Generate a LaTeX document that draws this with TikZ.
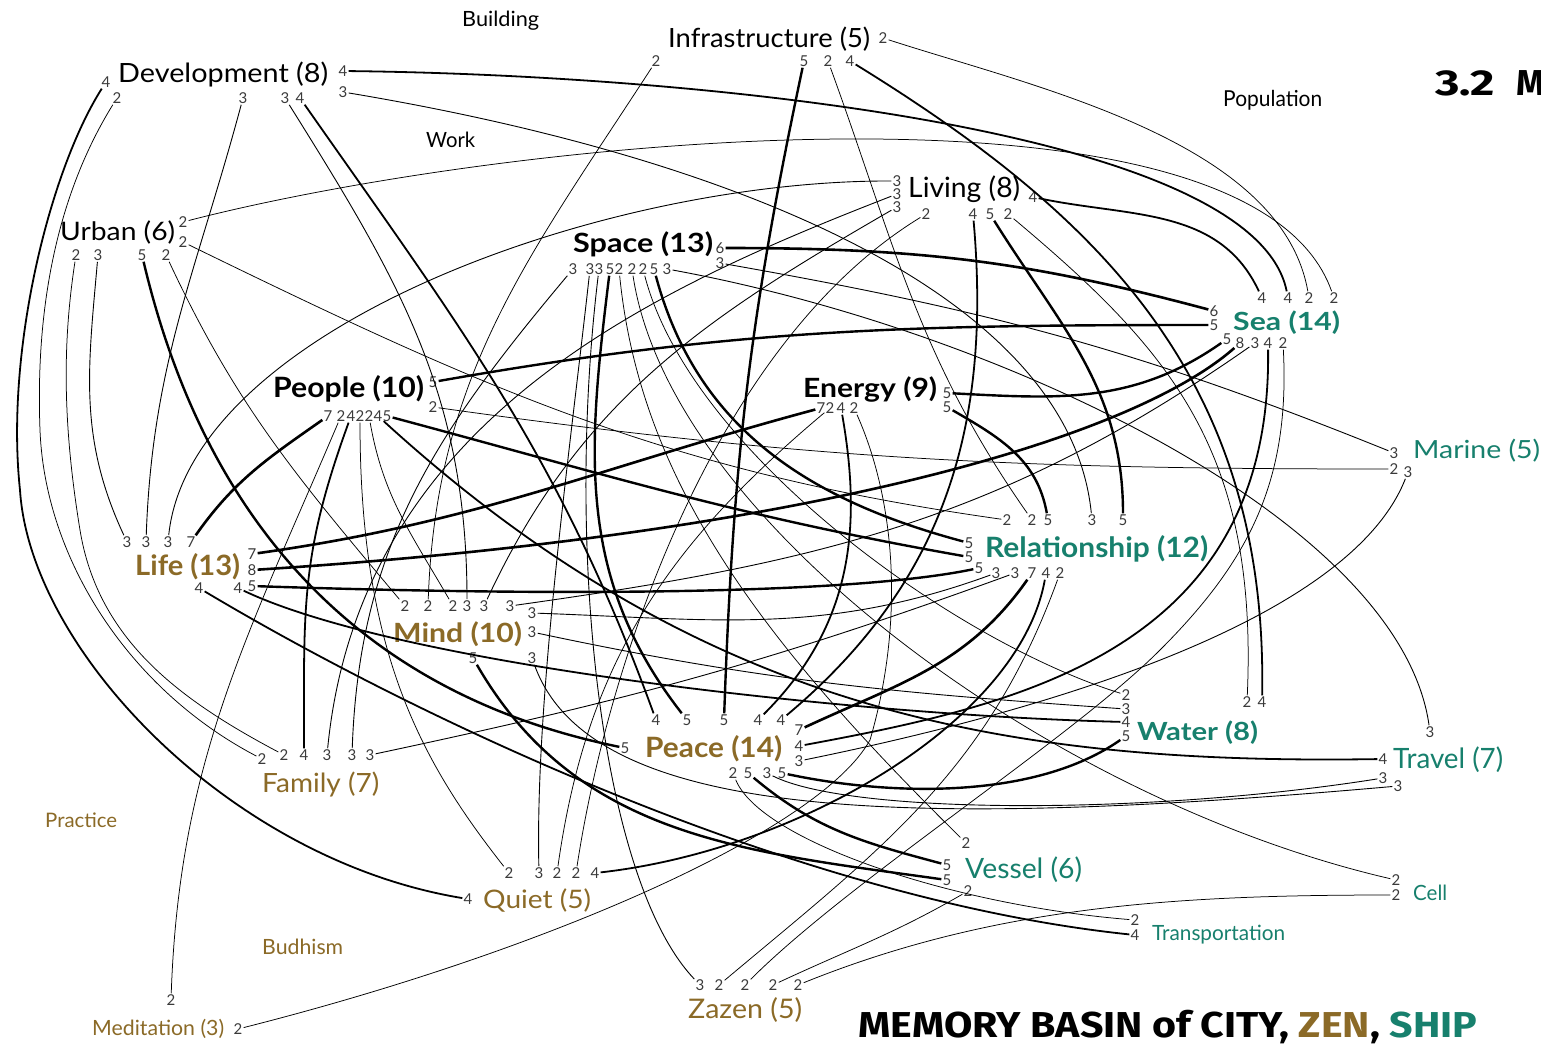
\documentclass[tikz,border=0pt]{standalone}
\usepackage{fontspec}
\usepackage{graphicx}
\setmainfont{Lato}
\newfontfamily\titlefont{Fira Sans}
\definecolor{zen}{HTML}{8B6A27}
\definecolor{ship}{HTML}{17806D}
\definecolor{numgray}{HTML}{3A3A3A}
\newcommand\mkport[4]{\node[pn] (#1) at (#2,#3) {#4};}
\newcommand\mklab[7]{\node[anchor=base west,inner sep=0pt,text=#6] (#1) at (#2,#3) {\resizebox{#4pt}{\height}{\fontsize{#5pt}{#5pt}\selectfont #7}};}
\begin{document}
\begin{tikzpicture}[x=1pt,y=-1pt,
  pn/.style={font=\fontsize{15pt}{15pt}\selectfont,inner sep=0pt,outer sep=1.3pt,text=numgray},
  w2/.style={line width=0.75pt},
  w3/.style={line width=0.9pt},
  w4/.style={line width=1.8pt},
  w5/.style={line width=2.4pt},
  w7/.style={line width=2.6pt}]
\useasboundingbox (0,0) rectangle (1541,1044);
\fill[white] (0,0) rectangle (1541,1044);
% ---------- labels ----------
\mklab{bld}{462}{27}{77}{21}{black}{Building}
\mklab{inf}{668}{47}{202}{26.5}{black}{Infrastructure (5)}
\mklab{dev}{118}{82}{210}{26.5}{black}{Development (8)}
\mklab{pop}{1223}{106}{99}{22}{black}{Population}
\mklab{wrk}{426}{147}{49}{21}{black}{Work}
\mklab{liv}{908}{197}{112}{28}{black}{Living (8)}
\mklab{urb}{60}{240}{115}{25.5}{black}{Urban (6)}
\mklab{spa}{573}{252}{140}{26.5}{black}{\bfseries Space (13)}
\mklab{sea}{1233}{330}{107}{25}{ship}{\bfseries Sea (14)}
\mklab{peo}{273}{397}{151}{28}{black}{\bfseries People (10)}
\mklab{ene}{803}{397}{134}{26.5}{black}{\bfseries Energy (9)}
\mklab{mar}{1413}{458}{127}{25}{ship}{Marine (5)}
\mklab{lif}{135}{575}{105}{28}{zen}{\bfseries Life (13)}
\mklab{rel}{985}{557}{223}{28}{ship}{\bfseries Relationship (12)}
\mklab{min}{393}{642}{129}{26.5}{zen}{\bfseries Mind (10)}
\mklab{wat}{1137}{740}{121}{25}{ship}{\bfseries Water (8)}
\mklab{pea}{645}{757}{137}{28}{zen}{\bfseries Peace (14)}
\mklab{tra}{1393}{768}{110}{28}{ship}{Travel (7)}
\mklab{fam}{262}{792}{117}{26.5}{zen}{Family (7)}
\mklab{pra}{45}{827}{72}{20}{zen}{Practice}
\mklab{ves}{965}{878}{117}{28}{ship}{Vessel (6)}
\mklab{cel}{1413}{900}{34}{21}{ship}{Cell}
\mklab{qui}{483}{908}{108}{25.5}{zen}{Quiet (5)}
\mklab{tp}{1152}{940}{133}{21}{ship}{Transportation}
\mklab{bud}{262}{954}{81}{21}{zen}{Budhism}
\mklab{zaz}{688}{1018}{114}{27}{zen}{Zazen (5)}
\mklab{med}{92}{1035}{132}{21}{zen}{Meditation (3)}
\node[anchor=base west,inner sep=0pt] (title) at (858,1037) {\resizebox{619pt}{\height}{\titlefont\bfseries\fontsize{36pt}{36pt}\selectfont MEMORY BASIN of CITY, \textcolor{zen}{ZEN}, \textcolor{ship}{SHIP}}};
\node[anchor=base west,inner sep=0pt] (sec) at (1435,95) {\titlefont\bfseries\fontsize{36pt}{36pt}\selectfont\resizebox{60pt}{\height}{3.2}\hspace{21pt}M};
% ---------- ports ----------
\mkport{devL4}{106}{82}{4}
\mkport{devB2}{117}{98}{2}
\mkport{devB3}{243}{98}{3}
\mkport{devB3b}{285}{98}{3}
\mkport{devB4}{300}{98}{4}
\mkport{devR4}{343}{71}{4}
\mkport{devR3}{343}{92}{3}
\mkport{infR2}{883}{38}{2}
\mkport{infB2}{656}{61}{2}
\mkport{infB5}{804}{61}{5}
\mkport{infB2b}{828}{61}{2}
\mkport{infB4}{850}{61}{4}
\mkport{livL3a}{897}{181}{3}
\mkport{livL3b}{897}{194}{3}
\mkport{livL3c}{897}{207}{3}
\mkport{livB2}{926}{214}{2}
\mkport{livB4}{973}{214}{4}
\mkport{livB5}{990}{214}{5}
\mkport{livB2b}{1008}{214}{2}
\mkport{livR4}{1033}{197}{4}
\mkport{urbR2a}{183}{222}{2}
\mkport{urbR2b}{183}{242}{2}
\mkport{urbB2}{76}{255}{2}
\mkport{urbB3}{98}{255}{3}
\mkport{urbB5}{142}{255}{5}
\mkport{urbB2b}{166}{255}{2}
\mkport{spaR6}{720}{248}{6}
\mkport{spaR3}{720}{263}{3}
\mkport{spaB3}{573}{269}{3}
\mkport{spaB3a}{590}{269}{3}
\mkport{spaB3b}{599}{269}{3}
\mkport{spaB5}{610}{269}{5}
\mkport{spaB2}{619}{269}{2}
\mkport{spaB2a}{632}{269}{2}
\mkport{spaB2b}{643}{269}{2}
\mkport{spaB5a}{654}{269}{5}
\mkport{spaB3c}{667}{269}{3}
\mkport{seaT4}{1262}{298}{4}
\mkport{seaT4a}{1288}{298}{4}
\mkport{seaT2}{1309}{298}{2}
\mkport{seaT2a}{1334}{298}{2}
\mkport{seaL6}{1214}{311}{6}
\mkport{seaL5}{1214}{325}{5}
\mkport{seaB5}{1227}{339}{5}
\mkport{seaB8}{1240}{343}{8}
\mkport{seaB3}{1255}{343}{3}
\mkport{seaB4}{1268}{343}{4}
\mkport{seaB2}{1283}{343}{2}
\mkport{peoR5}{433}{382}{5}
\mkport{peoR2}{433}{407}{2}
\mkport{peoB7}{328}{416}{7}
\mkport{peoB2}{341}{416}{2}
\mkport{peoB4}{351}{416}{4}
\mkport{peoB2a}{360}{416}{2}
\mkport{peoB2b}{369}{416}{2}
\mkport{peoB4a}{378}{416}{4}
\mkport{peoB5}{387}{416}{5}
\mkport{eneR5}{947}{393}{5}
\mkport{eneR5a}{947}{407}{5}
\mkport{eneB7}{821}{408}{7}
\mkport{eneB2}{830}{408}{2}
\mkport{eneB4}{841}{408}{4}
\mkport{eneB2a}{854}{408}{2}
\mkport{marL3}{1394}{453}{3}
\mkport{marL2}{1394}{469}{2}
\mkport{marB3}{1408}{472}{3}
\mkport{lifT3}{127}{542}{3}
\mkport{lifT3a}{146}{542}{3}
\mkport{lifT3b}{168}{542}{3}
\mkport{lifT7}{191}{542}{7}
\mkport{lifR7}{252}{554}{7}
\mkport{lifR8}{252}{570}{8}
\mkport{lifR5}{252}{586}{5}
\mkport{lifR4}{238}{588}{4}
\mkport{lifB4}{199}{588}{4}
\mkport{relT2}{1007}{520}{2}
\mkport{relT2a}{1032}{520}{2}
\mkport{relT5}{1048}{520}{5}
\mkport{relT3}{1092}{520}{3}
\mkport{relT5a}{1123}{520}{5}
\mkport{relL5}{969}{543}{5}
\mkport{relL5a}{969}{557}{5}
\mkport{relL5b}{979}{568}{5}
\mkport{relB3}{996}{573}{3}
\mkport{relB3a}{1015}{573}{3}
\mkport{relB7}{1032}{573}{7}
\mkport{relB4}{1046}{573}{4}
\mkport{relB2}{1060}{573}{2}
\mkport{minT2}{405}{606}{2}
\mkport{minT2a}{428}{606}{2}
\mkport{minT2b}{453}{606}{2}
\mkport{minT3}{467}{606}{3}
\mkport{minT3a}{484}{606}{3}
\mkport{minT3b}{510}{606}{3}
\mkport{minT3c}{532}{613}{3}
\mkport{minR3}{532}{632}{3}
\mkport{minB5}{473}{658}{5}
\mkport{minB3}{532}{658}{3}
\mkport{watT2}{1247}{702}{2}
\mkport{watT4}{1262}{702}{4}
\mkport{watL2}{1126}{695}{2}
\mkport{watL3}{1126}{709}{3}
\mkport{watL4}{1126}{722}{4}
\mkport{watL5}{1126}{736}{5}
\mkport{peaT4}{656}{720}{4}
\mkport{peaT5}{687}{720}{5}
\mkport{peaT5a}{724}{720}{5}
\mkport{peaT4a}{758}{720}{4}
\mkport{peaT4b}{781}{720}{4}
\mkport{peaL5}{625}{748}{5}
\mkport{peaR7}{799}{730}{7}
\mkport{peaR4}{799}{746}{4}
\mkport{peaR3}{799}{761}{3}
\mkport{peaB2}{733}{773}{2}
\mkport{peaB5}{748}{773}{5}
\mkport{peaB3}{767}{773}{3}
\mkport{peaB5a}{782}{773}{5}
\mkport{traT3}{1430}{732}{3}
\mkport{traL4}{1383}{759}{4}
\mkport{traL3}{1383}{778}{3}
\mkport{traL3a}{1398}{786}{3}
\mkport{famT2}{262}{759}{2}
\mkport{famT2a}{284}{755}{2}
\mkport{famT4}{304}{755}{4}
\mkport{famT3}{327}{755}{3}
\mkport{famT3a}{352}{755}{3}
\mkport{famT3b}{370}{755}{3}
\mkport{vesT2}{966}{843}{2}
\mkport{vesL5}{947}{865}{5}
\mkport{vesL5a}{947}{880}{5}
\mkport{vesB2}{968}{891}{2}
\mkport{celL2}{1396}{880}{2}
\mkport{celL2a}{1396}{895}{2}
\mkport{quiT2}{509}{873}{2}
\mkport{quiT3}{539}{873}{3}
\mkport{quiT2a}{557}{873}{2}
\mkport{quiT2b}{576}{873}{2}
\mkport{quiT4}{595}{873}{4}
\mkport{quiL4}{468}{899}{4}
\mkport{tpL2}{1135}{920}{2}
\mkport{tpL4}{1135}{935}{4}
\mkport{zazT3}{700}{985}{3}
\mkport{zazT2}{719}{985}{2}
\mkport{zazT2a}{745}{985}{2}
\mkport{zazT2b}{773}{985}{2}
\mkport{zazT2c}{798}{985}{2}
\mkport{medT2}{171}{1000}{2}
\mkport{medR2}{238}{1029}{2}
% ---------- weight 6-8 ----------
\draw[w7] (lifT7) to[out=55,in=215] (peoB7);
\draw[w7] (lifR7) to[out=8,in=195] (eneB7);
\draw[w7] (relB7) to[out=-125,in=25] (peaR7);
\draw[w7] (lifR8) .. controls (800,535) and (1130,440) .. (seaB8);
\draw[w7] (spaR6) to[out=0,in=165] (seaL6);
% ---------- weight 5 ----------
\draw[w5] (peoR5) to[out=10,in=180] (seaL5);
\draw[w5] (eneR5) to[out=-3,in=215] (seaB5);
\draw[w5] (eneR5a) to[out=-30,in=100] (relT5);
\draw[w5] (livB5) to[out=-58,in=90] (relT5a);
\draw[w5] (infB5) to[out=-102,in=88] (peaT5a);
\draw[w5] (spaB5) to[out=-97,in=128] (peaT5);
\draw[w5] (spaB5a) to[out=-75,in=165] (relL5);
\draw[w5] (peoB5) to[out=-15,in=170] (relL5a);
\draw[w5] (lifR5) .. controls (550,596) and (850,595) .. (relL5b);
\draw[w5] (urbB5) .. controls (200,500) and (340,690) .. (peaL5);
\draw[w5] (minB5) to[out=-60,in=172] (vesL5a);
\draw[w5] (peaB5) to[out=-40,in=165] (vesL5);
\draw[w5] (peaB5a) to[out=-12,in=215,looseness=0.8] (watL5);
% ---------- weight 4 ----------
\draw[w4] (devL4) .. controls (50,170) and (5,350) .. (20,490) .. controls (30,650) and (230,860) .. (quiL4);
\draw[w4] (devR4) .. controls (700,75) and (1255,130) .. (seaT4a);
\draw[w4] (livR4) to[out=-12,in=115] (seaT4);
\draw[w4] (infB4) .. controls (1100,215) and (1268,380) .. (watT4);
\draw[w4] (devB4) to[out=-55,in=110] (peaT4);
\draw[w4] (livB4) to[out=-85,in=40] (peaT4b);
\draw[w4] (eneB4) to[out=-80,in=45] (peaT4a);
\draw[w4] (peoB4) to[out=-110,in=90,looseness=1.1] (famT4);
\draw[w4] (seaB4) .. controls (1272,650) and (1020,705) .. (peaR4);
\draw[w4] (relB4) .. controls (1020,720) and (800,850) .. (quiT4);
\draw[w4] (peoB4a) .. controls (700,710) and (1000,765) .. (traL4);
\draw[w4] (lifR4) .. controls (400,665) and (850,715) .. (watL4);
\draw[w4] (lifB4) .. controls (420,720) and (800,900) .. (tpL4);
% ---------- weight 3 ----------
\draw[w3] (lifT3b) .. controls (190,330) and (600,180) .. (livL3a);
\draw[w3] (devR3) .. controls (750,160) and (1070,300) .. (relT3);
\draw[w3] (spaR3) to[out=-10,in=158] (marL3);
\draw[w3] (marB3) .. controls (1350,620) and (1050,710) .. (peaR3);
\draw[w3] (minT3c) to[out=-2,in=200] (relB3);
\draw[w3] (minT3b) to[out=8,in=215] (seaB3);
\draw[w3] (famT3b) to[out=12,in=200] (relB3a);
\draw[w3] (peaB3) .. controls (850,815) and (1150,815) .. (traL3);
\draw[w3] (minB3) .. controls (590,820) and (900,830) .. (traL3a);
\draw[w3] (minR3) to[out=-12,in=176] (watL3);
\draw[w3] (spaB3c) .. controls (1000,330) and (1400,520) .. (traT3);
\draw[w3] (urbB3) to[out=-95,in=115] (lifT3);
\draw[w3] (devB3) to[out=-105,in=88] (lifT3a);
\draw[w3] (devB3b) to[out=-58,in=90] (minT3);
\draw[w3] (zazT3) .. controls (600,880) and (565,550) .. (spaB3b);
\draw[w3] (quiT3) .. controls (535,700) and (570,450) .. (spaB3a);
\draw[w3] (livL3b) .. controls (650,290) and (360,420) .. (famT3);
\draw[w3] (livL3c) to[out=-150,in=65] (minT3a);
\draw[w3] (spaB3) to[out=-130,in=88] (famT3a);
% ---------- weight 2 ----------
\draw[w2] (infR2) to[out=-18,in=100,looseness=0.8] (seaT2);
\draw[w2] (urbR2a) .. controls (500,140) and (1250,60) .. (seaT2a);
\draw[w2] (urbR2b) to[out=-26,in=172] (relT2);
\draw[w2] (peoR2) to[out=-8,in=180] (marL2);
\draw[w2] (infB2) to[out=-123,in=88] (minT2a);
\draw[w2] (infB2b) to[out=-70,in=125] (relT2a);
\draw[w2] (livB2) .. controls (720,340) and (610,650) .. (quiT2b);
\draw[w2] (livB2b) .. controls (1170,350) and (1258,450) .. (watT2);
\draw[w2] (urbB2b) to[out=-65,in=130] (minT2);
\draw[w2] (peoB2) to[out=-113,in=88] (medT2);
\draw[w2] (peoB2a) .. controls (360,650) and (420,760) .. (quiT2);
\draw[w2] (peoB2b) to[out=-80,in=120] (minT2b);
\draw[w2] (devB2) .. controls (60,190) and (35,300) .. (40,430) .. controls (45,560) and (130,690) .. (famT2);
\draw[w2] (urbB2) .. controls (63,340) and (62,420) .. (80,530) .. controls (98,640) and (180,700) .. (famT2a);
\draw[w2] (eneB2) to[out=-140,in=82] (quiT2a);
\draw[w2] (eneB2a) .. controls (895,500) and (905,620) .. (870,740) .. controls (820,830) and (550,950) .. (medR2);
\draw[w2] (seaB2) .. controls (1290,480) and (1250,560) .. (1160,650) .. controls (1070,740) and (850,880) .. (zazT2a);
\draw[w2] (relB2) to[out=-110,in=40] (zazT2);
\draw[w2] (vesB2) to[out=-150,in=25] (zazT2b);
\draw[w2] (zazT2c) to[out=22,in=180,looseness=0.9] (celL2a);
\draw[w2] (spaB2) .. controls (640,480) and (760,640) .. (vesT2);
\draw[w2] (spaB2a) .. controls (670,520) and (1050,800) .. (celL2);
\draw[w2] (spaB2b) .. controls (690,450) and (950,640) .. (watL2);
\draw[w2] (peaB2) .. controls (760,840) and (950,905) .. (tpL2);
\end{tikzpicture}
\end{document}
